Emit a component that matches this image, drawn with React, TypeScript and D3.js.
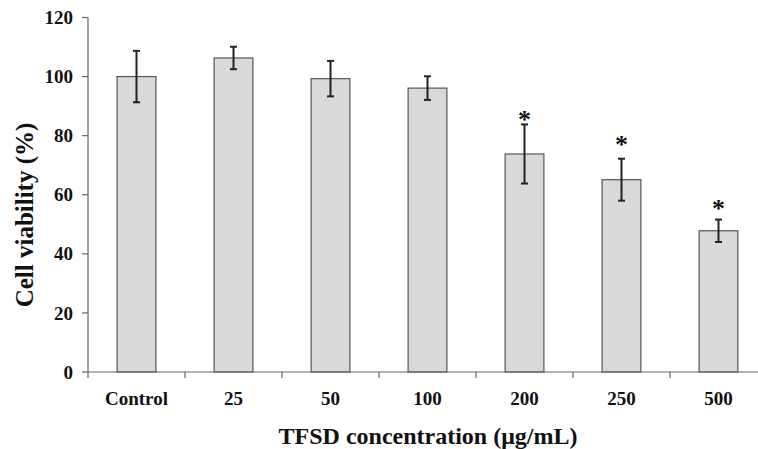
import * as d3 from "d3";
import React, { useRef, useEffect } from "react";

const categories = ["Control", "25", "50", "100", "200", "250", "500"];
const viability = [100, 106.3, 99.3, 96.1, 73.8, 65.1, 47.8];
const errors = [8.7, 3.8, 6.0, 4.0, 10.0, 7.1, 3.8];
// asterisk positions (in % units) for significant groups
const significant = ["200", "250", "500"];
const starLevel = [84.5, 76.0, 54.5];
const yTicks = [0, 20, 40, 60, 80, 100, 120];

const width = 758;
const height = 449;
const font = "'Liberation Serif', 'Times New Roman', serif";

function App() {
  const ref = useRef<SVGSVGElement>(null);

  useEffect(() => {
    const margin = { top: 17.5, left: 88, bottom: 77 };
    const plotBottom = height - margin.bottom;

    const xScale = d3
      .scaleBand()
      .domain(categories)
      .range([margin.left, margin.left + 97 * categories.length]);

    const yScale = d3.scaleLinear().domain([0, 120]).range([plotBottom, margin.top]);

    const svg = d3.select(ref.current);
    svg.selectAll("*").remove();

    const barW = xScale.bandwidth() * 0.4;
    const data = categories.map((c, i) => ({ c, v: viability[i], e: errors[i] }));

    svg
      .selectAll(".bar")
      .data(data)
      .join("rect")
      .classed("bar", true)
      .attr("x", (d) => xScale(d.c)! + xScale.bandwidth() / 2 - barW / 2)
      .attr("y", (d) => yScale(d.v))
      .attr("width", barW)
      .attr("height", (d) => yScale(0) - yScale(d.v))
      .attr("fill", "#d9d9d9")
      .attr("stroke", "#555")
      .attr("stroke-width", 1.2);

    const err = svg.append("g").attr("stroke", "#222").attr("stroke-width", 2);
    data.forEach((d) => {
      const cx = xScale(d.c)! + xScale.bandwidth() / 2;
      const y1 = yScale(d.v + d.e);
      const y2 = yScale(d.v - d.e);
      err.append("line").attr("x1", cx).attr("x2", cx).attr("y1", y1).attr("y2", y2);
      err.append("line").attr("x1", cx - 3.5).attr("x2", cx + 3.5).attr("y1", y1).attr("y2", y1);
      err.append("line").attr("x1", cx - 3.5).attr("x2", cx + 3.5).attr("y1", y2).attr("y2", y2);
    });

    svg
      .selectAll(".star")
      .data(significant)
      .join("text")
      .classed("star", true)
      .attr("x", (d) => xScale(d)! + xScale.bandwidth() / 2)
      .attr("y", (d, i) => yScale(starLevel[i]) + 6)
      .attr("text-anchor", "middle")
      .style("font-family", font)
      .style("font-weight", "bold")
      .style("font-size", "26px")
      .attr("fill", "#111")
      .text("*");

    // y axis
    const yAxis = svg.append("g");
    yAxis
      .append("line")
      .attr("x1", margin.left)
      .attr("x2", margin.left)
      .attr("y1", yScale(120))
      .attr("y2", yScale(0))
      .attr("stroke", "#666")
      .attr("stroke-width", 1.2);
    yAxis
      .selectAll(".ytick")
      .data(yTicks)
      .join("line")
      .attr("x1", margin.left - 6)
      .attr("x2", margin.left)
      .attr("y1", (d) => yScale(d))
      .attr("y2", (d) => yScale(d))
      .attr("stroke", "#666")
      .attr("stroke-width", 1.2);
    yAxis
      .selectAll(".ylabel")
      .data(yTicks)
      .join("text")
      .attr("x", margin.left - 15)
      .attr("y", (d) => yScale(d))
      .attr("dy", "0.35em")
      .attr("text-anchor", "end")
      .style("font-family", font)
      .style("font-weight", "bold")
      .style("font-size", "19px")
      .attr("fill", "#111")
      .text((d) => d);

    // x axis
    const xAxis = svg.append("g");
    xAxis
      .append("line")
      .attr("x1", margin.left)
      .attr("x2", xScale.range()[1])
      .attr("y1", plotBottom)
      .attr("y2", plotBottom)
      .attr("stroke", "#666")
      .attr("stroke-width", 1.2);
    xAxis
      .selectAll(".xtick")
      .data(categories)
      .join("line")
      .attr("x1", (d) => xScale(d)!)
      .attr("x2", (d) => xScale(d)!)
      .attr("y1", plotBottom)
      .attr("y2", plotBottom + 6)
      .attr("stroke", "#666")
      .attr("stroke-width", 1.2);
    xAxis
      .selectAll(".xlabel")
      .data(categories)
      .join("text")
      .attr("x", (d) => xScale(d)! + xScale.bandwidth() / 2)
      .attr("y", plotBottom + 33)
      .attr("text-anchor", "middle")
      .style("font-family", font)
      .style("font-weight", "bold")
      .style("font-size", "19px")
      .attr("fill", "#111")
      .text((d) => d);

    svg
      .append("text")
      .attr("x", 428)
      .attr("y", 444)
      .attr("text-anchor", "middle")
      .style("font-family", font)
      .style("font-weight", "bold")
      .style("font-size", "24px")
      .attr("fill", "#111")
      .text("TFSD concentration (μg/mL)");

    svg
      .append("text")
      .attr("transform", `translate(33, 215) rotate(-90)`)
      .attr("text-anchor", "middle")
      .style("font-family", font)
      .style("font-weight", "bold")
      .style("font-size", "25px")
      .attr("fill", "#111")
      .text("Cell viability (%)");
  }, []);

  return (
    <svg
      ref={ref}
      width={width}
      height={height}
      style={{ position: "absolute", left: 0, top: 0, background: "#fff" }}
    ></svg>
  );
}

export default App;
